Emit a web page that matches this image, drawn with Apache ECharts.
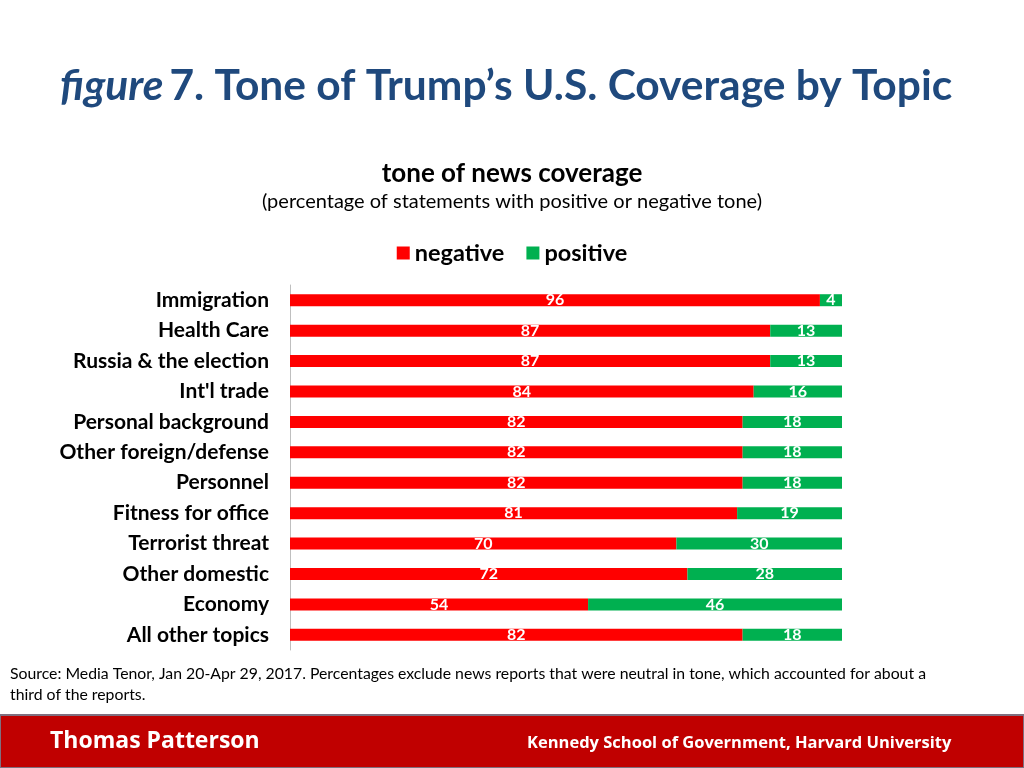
<!DOCTYPE html>
<html><head><meta charset="utf-8">
<script src="https://cdn.jsdelivr.net/npm/echarts@6/dist/echarts.min.js"></script>
<style>html,body{margin:0;padding:0;background:#fff}#c{width:1024px;height:768px}</style>
</head><body><div id="c"></div>
<script>
const categories = ["Immigration","Health Care","Russia & the election","Int'l trade","Personal background","Other foreign/defense","Personnel","Fitness for office","Terrorist threat","Other domestic","Economy","All other topics"];
const negative = [96,87,87,84,82,82,82,81,70,72,54,82];
const positive = [4,13,13,16,18,18,18,19,30,28,46,18];
const seriesNames = ["negative","positive"];

const FONT = "Lato, 'Open Sans', sans-serif";
const FOOT = "'Open Sans', Lato, sans-serif";
const chart = echarts.init(document.getElementById('c'));
const lbl = {show:true, position:'inside', color:'#fff', fontWeight:'bold', fontSize:16, fontFamily:FONT};
chart.setOption({
  animation:false,
  title:[
    {text:'{i|figure}{n|7. Tone of Trump\u2019s U.S. Coverage by Topic}', left:55, top:60,
     textStyle:{rich:{i:{fontStyle:'italic',fontWeight:'bold',fontSize:42.5,color:'#1F497D',fontFamily:FONT,padding:[0,6,0,0]},
                      n:{fontWeight:'bold',fontSize:42.5,color:'#1F497D',fontFamily:FONT}}}},
    {text:'tone of news coverage', left:507, textAlign:'center', top:156,
     textStyle:{fontWeight:'bold',fontSize:26,color:'#000',fontFamily:FONT}},
    {text:'(percentage of statements with positive or negative tone)', left:507, textAlign:'center', top:187,
     textStyle:{fontWeight:'normal',fontSize:20,color:'#000',fontFamily:FONT}}
  ],
  legend:{data:seriesNames, left:'center', top:236, icon:'rect', itemWidth:13, itemHeight:13, itemGap:22,
    textStyle:{fontWeight:'bold',fontSize:23.5,color:'#000',fontFamily:FONT}},
  grid:{left:290, right:182, top:285, bottom:118, containLabel:false},
  xAxis:{type:'value', min:0, max:100, show:false},
  yAxis:{type:'category', data:categories, inverse:true,
    axisLine:{show:true, lineStyle:{color:'#BFBFBF', width:1}}, axisTick:{show:false},
    axisLabel:{color:'#000', fontWeight:'bold', fontSize:21, fontFamily:FONT, margin:21}},
  series:[
    {name:seriesNames[0], type:'bar', stack:'t', data:negative, barWidth:12, itemStyle:{color:'#FF0000'}, label:lbl},
    {name:seriesNames[1], type:'bar', stack:'t', data:positive, barWidth:12, itemStyle:{color:'#00B050'}, label:lbl}
  ],
  graphic:[
    {type:'text', left:10, top:663, style:{text:'Source: Media Tenor, Jan 20-Apr 29, 2017. Percentages exclude news reports that were neutral in tone, which accounted for about a\nthird of the reports.', fill:'#000', font:'15.8px '+FONT, lineHeight:21}},
    {type:'rect', shape:{x:0,y:715,width:1024,height:53}, style:{fill:'#C00000', stroke:'#7F6F7F', lineWidth:2}},
    {type:'text', left:50, top:730, style:{text:'Thomas Patterson', fill:'#fff', font:'bold 23px '+FOOT}},
    {type:'text', left:527, top:735, style:{text:'Kennedy School of Government, Harvard University', fill:'#fff', font:'bold 16.5px '+FOOT}}
  ]
});
</script></body></html>
